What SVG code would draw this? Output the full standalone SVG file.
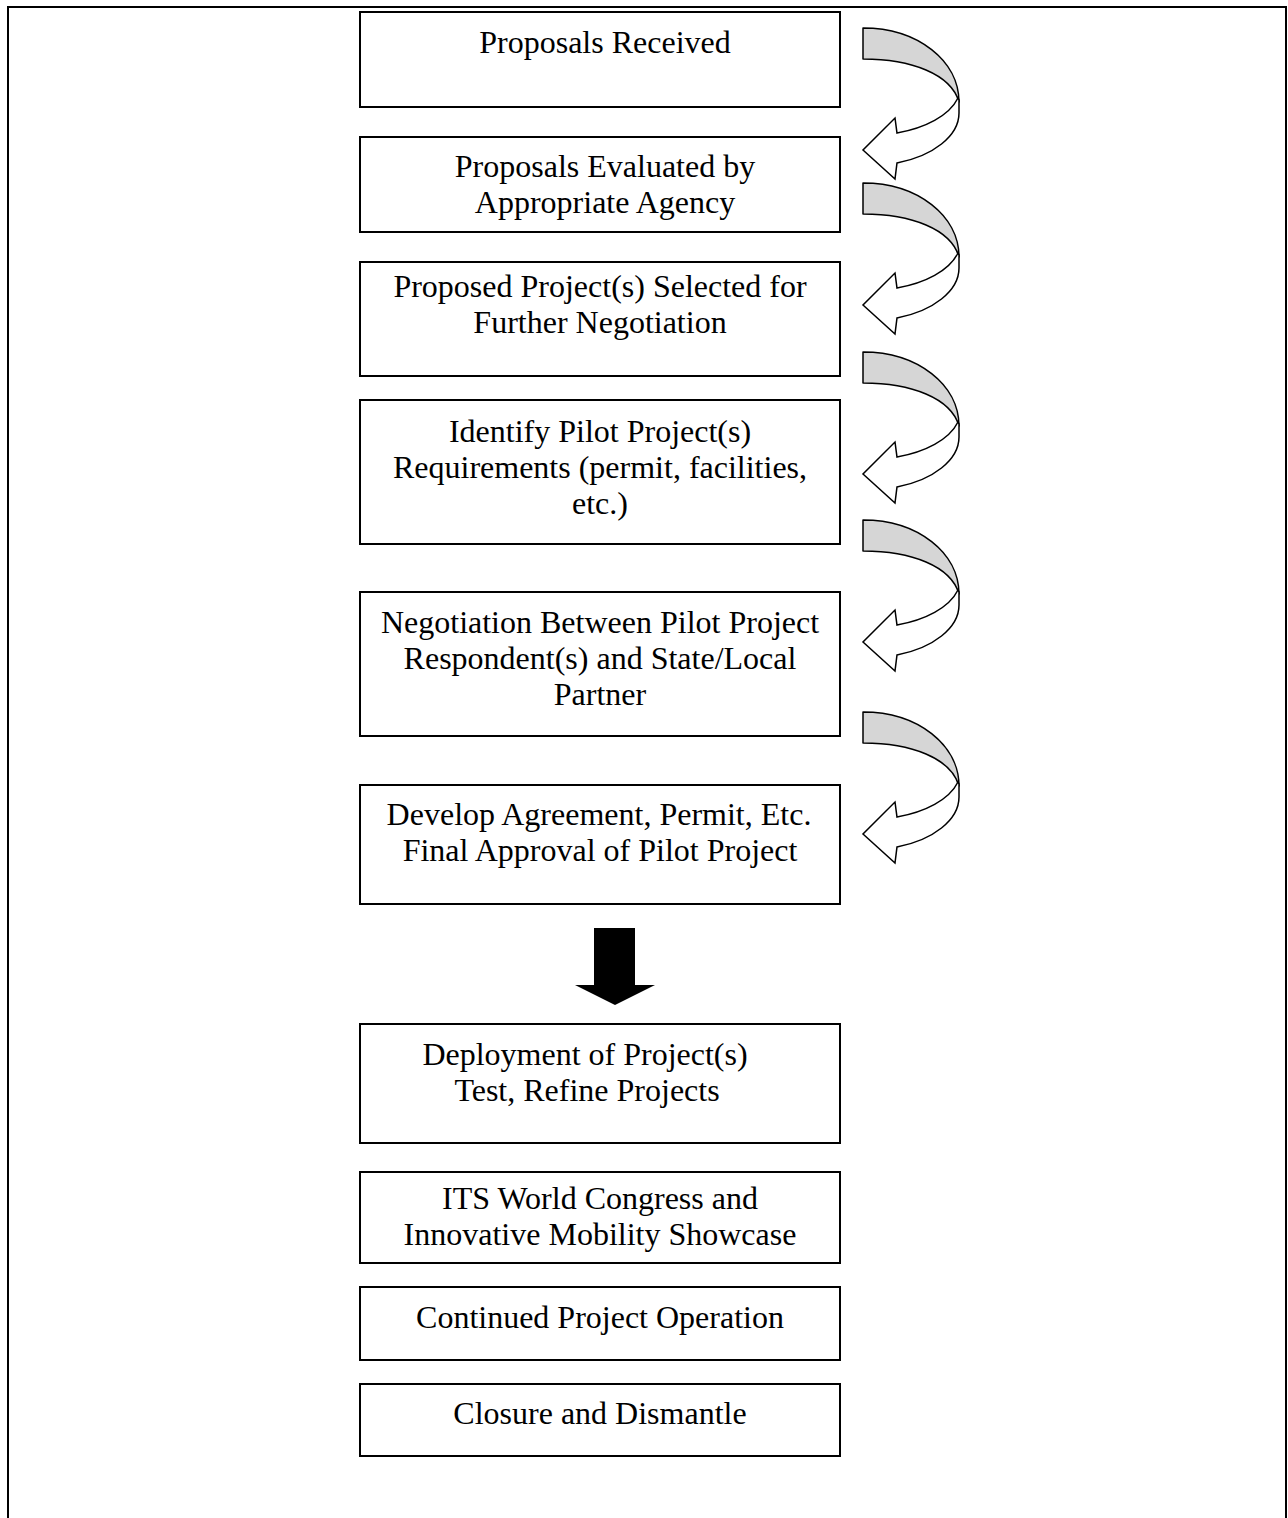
<svg xmlns="http://www.w3.org/2000/svg" width="1288" height="1518" viewBox="0 0 1288 1518">
<style>
  .box{fill:#fff;stroke:#000;stroke-width:2}
  .t{font-family:"Liberation Serif","Times New Roman",serif;font-size:32px;fill:#000;text-anchor:middle}
  .back{fill:#d6d6d6;stroke:#000;stroke-width:1.5;stroke-linejoin:round}
  .front{fill:#fff;stroke:#000;stroke-width:1.5;stroke-linejoin:miter}
</style>
<defs>
  <g id="curved">
    <path class="back" d="M0,0 C55,0 96,33 96,74 C88,46 48,31 0,31 Z"/>
    <path class="front" d="M96,72 L96,85 C96,108 70,128 34,135 L32,151 L0,122 L32,90 L34,105 C62,100 86,88 95,70 Z"/>
  </g>
</defs>
<rect width="1288" height="1518" fill="#fff"/>
<path d="M8,1518 V7 H1286 V1518" fill="none" stroke="#000" stroke-width="2"/>

<g id="connectors">
  <use href="#curved" x="863" y="28"/>
  <use href="#curved" x="863" y="183"/>
  <use href="#curved" x="863" y="352"/>
  <use href="#curved" x="863" y="520"/>
  <use href="#curved" x="863" y="712"/>
  <path d="M594,928 H635 V985 H655 L615,1005 L575,985 H594 Z" fill="#000"/>
</g>

<g id="n1"><rect class="box" x="360" y="12" width="480" height="95"/>
  <text class="t" x="605" y="53">Proposals Received</text></g>
<g id="n2"><rect class="box" x="360" y="137" width="480" height="95"/>
  <text class="t" x="605" y="177">Proposals Evaluated by</text>
  <text class="t" x="605" y="213">Appropriate Agency</text></g>
<g id="n3"><rect class="box" x="360" y="262" width="480" height="114"/>
  <text class="t" x="600" y="297">Proposed Project(s) Selected for</text>
  <text class="t" x="600" y="333">Further Negotiation</text></g>
<g id="n4"><rect class="box" x="360" y="400" width="480" height="144"/>
  <text class="t" x="600" y="442">Identify Pilot Project(s)</text>
  <text class="t" x="600" y="478">Requirements (permit, facilities,</text>
  <text class="t" x="600" y="514">etc.)</text></g>
<g id="n5"><rect class="box" x="360" y="592" width="480" height="144"/>
  <text class="t" x="600" y="633">Negotiation Between Pilot Project</text>
  <text class="t" x="600" y="669">Respondent(s) and State/Local</text>
  <text class="t" x="600" y="705">Partner</text></g>
<g id="n6"><rect class="box" x="360" y="785" width="480" height="119"/>
  <text class="t" x="599" y="825">Develop Agreement, Permit, Etc.</text>
  <text class="t" x="600" y="861">Final Approval of Pilot Project</text></g>
<g id="n7"><rect class="box" x="360" y="1024" width="480" height="119"/>
  <text class="t" x="585" y="1065">Deployment of Project(s)</text>
  <text class="t" x="587" y="1101">Test, Refine Projects</text></g>
<g id="n8"><rect class="box" x="360" y="1172" width="480" height="91"/>
  <text class="t" x="600" y="1209">ITS World Congress and</text>
  <text class="t" x="600" y="1245">Innovative Mobility Showcase</text></g>
<g id="n9"><rect class="box" x="360" y="1287" width="480" height="73"/>
  <text class="t" x="600" y="1328">Continued Project Operation</text></g>
<g id="n10"><rect class="box" x="360" y="1384" width="480" height="72"/>
  <text class="t" x="600" y="1424">Closure and Dismantle</text></g>
</svg>
